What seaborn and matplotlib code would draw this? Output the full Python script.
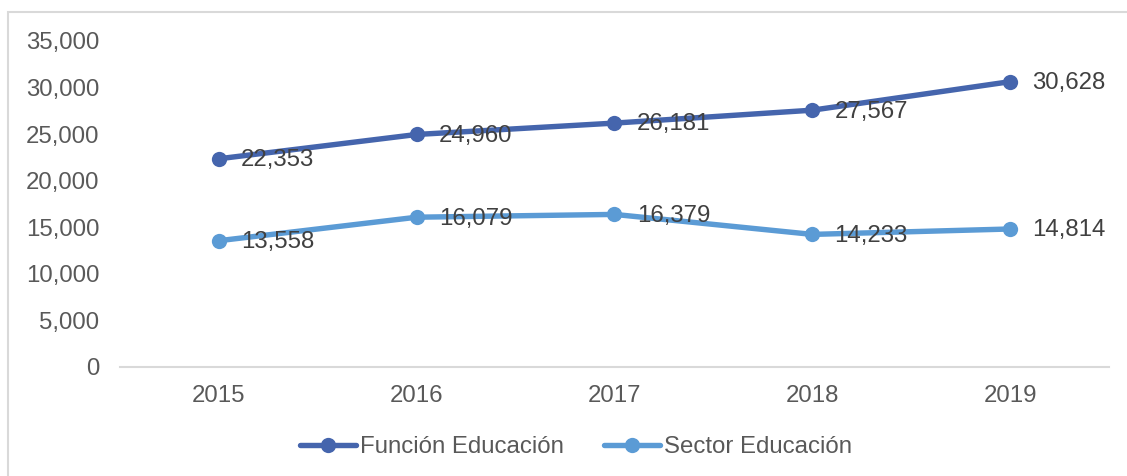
import numpy as np
import pandas as pd
import matplotlib.pyplot as plt
import seaborn as sns
from matplotlib.patches import Rectangle
from matplotlib.lines import Line2D

years = ['2015', '2016', '2017', '2018', '2019']
funcion = [22353, 24960, 26181, 27567, 30628]
sector = [13558, 16079, 16379, 14233, 14814]
series_names = ['Función Educación', 'Sector Educación']
colors = ['#4565AD', '#5B9BD5']

df = pd.DataFrame({
    'anio': years * 2,
    'valor': funcion + sector,
    'serie': [series_names[0]] * 5 + [series_names[1]] * 5,
})

sns.set_style("white")
plt.rcParams['font.family'] = ['Liberation Sans', 'DejaVu Sans']
fs = 17.3

fig = plt.figure(figsize=(11.27, 4.76), dpi=100)
ax = fig.add_axes([0.1065, 0.229, 0.8775, 0.685])

# marco del gráfico
fig.patches.append(Rectangle((8 / 1127, -0.1), 1.2, 1.1 - 12 / 476,
                             transform=fig.transFigure, fill=False,
                             edgecolor='#D9D9D9', linewidth=1.5))

sns.lineplot(data=df, x='anio', y='valor', hue='serie', palette=colors,
             marker='o', markersize=11, markeredgewidth=0, linewidth=3.9,
             ax=ax, legend=False, sort=False)

# etiquetas de datos
for vals in [funcion, sector]:
    for i, v in enumerate(vals):
        ax.annotate(f"{v:,}", xy=(i, v), xytext=(16, -1), textcoords='offset points',
                    ha='left', va='center', fontsize=fs, color='#404040')

ax.set_xlim(-0.5, 4.5)
ax.set_ylim(0, 35000)
ax.set_yticks(np.arange(0, 35001, 5000))
ax.yaxis.set_major_formatter(plt.FuncFormatter(lambda v, p: f"{int(v):,}"))
ax.tick_params(axis='both', length=0, labelsize=fs, labelcolor='#595959')
ax.tick_params(axis='y', pad=15)
ax.tick_params(axis='x', pad=13)
ax.set_xlabel('')
ax.set_ylabel('')
for s in ['top', 'right', 'left']:
    ax.spines[s].set_visible(False)
ax.spines['bottom'].set_color('#D9D9D9')
ax.spines['bottom'].set_linewidth(1.5)

handles = [Line2D([0], [0], color=c, lw=3.9, marker='o', markersize=11, markeredgewidth=0)
           for c in colors]
fig.legend(handles, series_names, loc='center', bbox_to_anchor=(0.511, 0.061), ncol=2,
           frameon=False, fontsize=fs, labelcolor='#595959', handlelength=2.33,
           handletextpad=0.17, columnspacing=1.67)

plt.savefig("out.png", dpi=100)
